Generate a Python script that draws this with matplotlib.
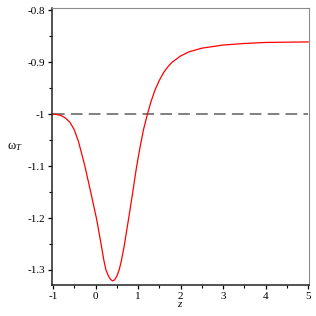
import matplotlib
matplotlib.use("Agg")
import matplotlib.pyplot as plt
from matplotlib.ticker import MultipleLocator, FixedFormatter, FixedLocator

plt.rcParams["font.family"] = ["Liberation Serif", "DejaVu Serif"]
plt.rcParams["mathtext.fontset"] = "custom"
plt.rcParams["mathtext.rm"] = "Liberation Serif"
plt.rcParams["mathtext.it"] = "Liberation Serif:italic"
plt.rcParams["axes.unicode_minus"] = False

# values
z = [-1.0, -0.9, -0.8, -0.7, -0.6, -0.5, -0.4, -0.25, -0.1, 0.02,
     0.05, 0.13, 0.2, 0.245, 0.3, 0.35, 0.4, 0.45, 0.5, 0.555,
     0.6, 0.67, 0.78, 0.87, 0.96, 1.05, 1.13, 1.22, 1.3, 1.4,
     1.5, 1.6, 1.7, 1.8, 2.0, 2.2, 2.5, 3.0, 3.5, 4.0, 5.0]
omega_t = [-1.0, -1.001, -1.003, -1.008, -1.016, -1.030, -1.053, -1.1, -1.155, -1.2,
           -1.213, -1.250, -1.283, -1.300, -1.311, -1.318, -1.321, -1.319, -1.312, -1.300,
           -1.285, -1.256, -1.2, -1.153, -1.104, -1.062, -1.029, -1.0, -0.977, -0.953,
           -0.935, -0.920, -0.909, -0.900, -0.888, -0.880, -0.873, -0.867, -0.864, -0.862, -0.861]
ref_z = [-1.0, 5.0]
ref_w = [-1.0, -1.0]

xticks = [-1, 0, 1, 2, 3, 4, 5]
xticklabels = ["-1", "0", "1", "2", "3", "4", "5"]
yticks = [-1.3, -1.2, -1.1, -1.0, -0.9, -0.8]
yticklabels = ["-1.3", "-1.2", "-1.1", "-1", "-0.9", "-0.8"]

fig = plt.figure(figsize=(3.16, 3.16), dpi=100, facecolor="white")
ax = fig.add_axes([0.165, 0.098, 0.813, 0.877])

ax.plot(ref_z, ref_w, color="#808080", lw=1.4, dashes=(6.0, 3.2))
ax.plot(z, omega_t, color="#ff0000", lw=0.9, solid_joinstyle="round")

ax.set_xlim(-1.02, 5.02)
ax.set_ylim(-1.329, -0.7955)

ax.xaxis.set_major_locator(FixedLocator(xticks))
ax.xaxis.set_major_formatter(FixedFormatter(xticklabels))
ax.xaxis.set_minor_locator(MultipleLocator(0.5))
ax.yaxis.set_major_locator(FixedLocator(yticks))
ax.yaxis.set_major_formatter(FixedFormatter(yticklabels))
ax.yaxis.set_minor_locator(MultipleLocator(0.05))

ax.tick_params(which="major", direction="out", length=3, width=0.9, labelsize=8, pad=2)
ax.tick_params(which="minor", direction="out", length=2, width=0.8)

for side in ["left", "bottom"]:
    ax.spines[side].set_color("#222222")
    ax.spines[side].set_linewidth(1.1)
for side in ["top", "right"]:
    ax.spines[side].set_color("#8a8a8a")
    ax.spines[side].set_linewidth(0.8)

ax.set_xlabel("$z$", fontsize=8, labelpad=-1)
fig.text(0.022, 0.535, "ω$_{T}$", fontsize=9, ha="left", va="center")

fig.savefig("out.png", dpi=100, facecolor="white")
